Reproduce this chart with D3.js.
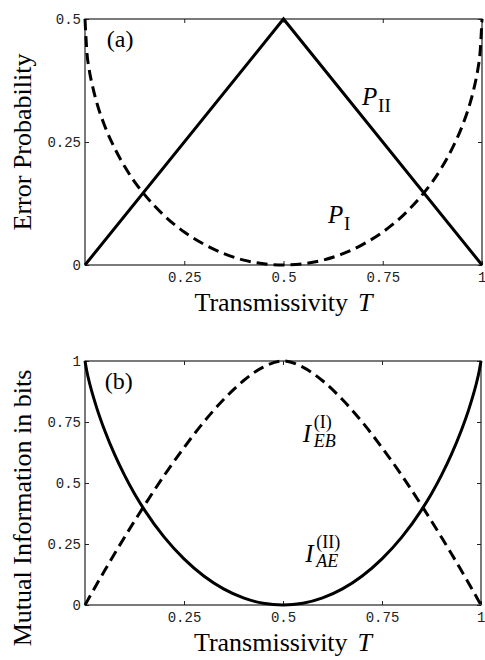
<!DOCTYPE html>
<html>
<head>
<meta charset="utf-8">
<script src="https://cdn.jsdelivr.net/npm/d3@7"></script>
<style>
  body { margin: 0; background: #fff; }
  svg { display: block; }
  .tick text { font-family: "Liberation Mono", "DejaVu Sans Mono", monospace; font-size: 14px; fill: #222; }
  text.title, text.title tspan { font-family: "Liberation Serif", "Times New Roman", serif; fill: #000; }
</style>
</head>
<body>
<svg id="chart" width="485" height="660"></svg>
<script>
// transmissivity grid
var tGrid = [0, 0.005, 0.01, 0.02, 0.03, 0.05, 0.075, 0.1, 0.125, 0.15, 0.2, 0.25, 0.3, 0.35, 0.4, 0.45, 0.5,
             0.55, 0.6, 0.65, 0.7, 0.75, 0.8, 0.85, 0.875, 0.9, 0.925, 0.95, 0.97, 0.98, 0.99, 0.995, 1];

// panel (a)
var pIIx = [0, 0.5, 1];
var pIIy = [0, 0.5, 0];
var pI = [0.5, 0.43, 0.4, 0.36, 0.329, 0.282, 0.237, 0.2, 0.169, 0.143, 0.1, 0.067, 0.042, 0.023, 0.01, 0.0025, 0,
          0.0025, 0.01, 0.023, 0.042, 0.067, 0.1, 0.143, 0.169, 0.2, 0.237, 0.282, 0.329, 0.36, 0.4, 0.43, 0.5];

// panel (b)
var iAE = [1, 0.955, 0.919, 0.859, 0.806, 0.714, 0.616, 0.531, 0.456, 0.39, 0.278, 0.189, 0.119, 0.066, 0.029, 0.007, 0,
           0.007, 0.029, 0.066, 0.119, 0.189, 0.278, 0.39, 0.456, 0.531, 0.616, 0.714, 0.806, 0.859, 0.919, 0.955, 1];
var iEB = [0, 0.014, 0.029, 0.057, 0.086, 0.142, 0.211, 0.278, 0.344, 0.408, 0.531, 0.645, 0.75, 0.842, 0.919, 0.975, 1,
           0.975, 0.919, 0.842, 0.75, 0.645, 0.531, 0.408, 0.344, 0.278, 0.211, 0.142, 0.086, 0.057, 0.029, 0.014, 0];

var xTicks = [0.25, 0.5, 0.75, 1];
var yTicksA = [0, 0.25, 0.5];
var yTicksB = [0, 0.25, 0.5, 0.75, 1];

var serif = '"Liberation Serif", "Times New Roman", serif';
var svg = d3.select('#chart');

function drawPanel (opts) {
  var x = d3.scaleLinear().domain([0, 1]).range([opts.left, opts.right]);
  var y = d3.scaleLinear().domain([0, opts.yMax]).range([opts.bottom, opts.top]);
  var g = svg.append('g');

  var axisStyle = function (sel) {
    sel.select('.domain').remove();
    sel.selectAll('.tick line').attr('stroke', '#222').attr('stroke-width', 1);
  };

  var bottomAxis = g.append('g').attr('transform', 'translate(0,' + opts.bottom + ')')
    .call(d3.axisBottom(x).tickValues(xTicks).tickSize(-4).tickPadding(7).tickFormat(d3.format('')))
    .call(axisStyle);
  // the "1" at the right corner sits flush with the edge
  bottomAxis.selectAll('.tick text').filter(function (d) { return d === 1; })
    .attr('text-anchor', 'end').attr('dx', 4);
  g.append('g').attr('transform', 'translate(0,' + opts.top + ')')
    .call(d3.axisTop(x).tickValues(xTicks).tickSize(-4).tickFormat(''))
    .call(axisStyle);
  g.append('g').attr('transform', 'translate(' + opts.left + ',0)')
    .call(d3.axisLeft(y).tickValues(opts.yTicks).tickSize(-4).tickPadding(4).tickFormat(d3.format('')))
    .call(axisStyle);
  g.append('g').attr('transform', 'translate(' + opts.right + ',0)')
    .call(d3.axisRight(y).tickValues(opts.yTicks).tickSize(-4).tickFormat(''))
    .call(axisStyle);
  g.selectAll('.tick text').attr('font-family', null).attr('font-size', null);

  g.append('rect')
    .attr('x', opts.left).attr('y', opts.top)
    .attr('width', opts.right - opts.left).attr('height', opts.bottom - opts.top)
    .attr('fill', 'none').attr('stroke', '#222').attr('stroke-width', 1.2);

  var line = d3.line()
    .x(function (d) { return x(d[0]); })
    .y(function (d) { return y(d[1]); });

  opts.series.forEach(function (s) {
    line.curve(s.straight ? d3.curveLinear : d3.curveMonotoneX);
    g.append('path')
      .attr('d', line(d3.zip(s.xs, s.ys)))
      .attr('fill', 'none')
      .attr('stroke', '#000')
      .attr('stroke-width', 3)
      .attr('stroke-dasharray', s.dashed ? '11,6' : null);
  });

  // panel letter
  g.append('text').attr('class', 'title').attr('font-family', serif)
    .attr('x', x(opts.tag[0])).attr('y', y(opts.tag[1]))
    .attr('font-size', 24).text(opts.tag[2]);

  // x axis title
  var xt = g.append('text').attr('class', 'title').attr('font-family', serif)
    .attr('x', (opts.left + opts.right) / 2).attr('y', opts.bottom + 46)
    .attr('text-anchor', 'middle').attr('font-size', 26);
  xt.append('tspan').text('Transmissivity');
  xt.append('tspan').attr('dx', 10).attr('font-style', 'italic').text('T');

  // y axis title
  svg.append('text').attr('class', 'title').attr('font-family', serif)
    .attr('transform', 'translate(31,' + opts.yTitleY + ') rotate(-90)')
    .attr('text-anchor', 'middle').attr('font-size', 26)
    .text(opts.yTitle);

  return { x: x, y: y, g: g };
}

var a = drawPanel({
  left: 85, right: 482, top: 19, bottom: 265, yMax: 0.5, yTicks: yTicksA,
  yTitle: 'Error Probability', yTitleY: 142, tag: [0.055, 0.443, '(a)'],
  series: [
    { xs: pIIx, ys: pIIy, straight: true },
    { xs: tGrid, ys: pI, dashed: true }
  ]
});

var b = drawPanel({
  left: 85, right: 481, top: 361, bottom: 605, yMax: 1, yTicks: yTicksB,
  yTitle: 'Mutual Information in bits', yTitleY: 508, tag: [0.05, 0.885, '(b)'],
  series: [
    { xs: tGrid, ys: iAE },
    { xs: tGrid, ys: iEB, dashed: true }
  ]
});

// curve labels: P with roman subscript
function pLabel (panel, tx, ty, sub) {
  var px = panel.x(tx), py = panel.y(ty);
  panel.g.append('text').attr('class', 'title').attr('font-family', serif)
    .attr('x', px).attr('y', py).attr('font-size', 25).attr('font-style', 'italic').text('P');
  panel.g.append('text').attr('class', 'title').attr('font-family', serif)
    .attr('x', px + 16).attr('y', py + 7).attr('font-size', 19).text(sub);
}
pLabel(a, 0.698, 0.325, 'II');
pLabel(a, 0.612, 0.085, 'I');

// I with superscript and subscript stacked
function iLabel (panel, tx, ty, sup, sub) {
  var px = panel.x(tx), py = panel.y(ty);
  panel.g.append('text').attr('class', 'title').attr('font-family', serif)
    .attr('x', px).attr('y', py).attr('font-size', 25).attr('font-style', 'italic').text('I');
  panel.g.append('text').attr('class', 'title').attr('font-family', serif)
    .attr('x', px + 11).attr('y', py - 14).attr('font-size', 18).text(sup);
  panel.g.append('text').attr('class', 'title').attr('font-family', serif)
    .attr('x', px + 11).attr('y', py + 5).attr('font-size', 18).attr('font-style', 'italic').text(sub);
}
iLabel(b, 0.55, 0.668, '(I)', 'EB');
iLabel(b, 0.556, 0.176, '(II)', 'AE');
</script>
</body>
</html>
